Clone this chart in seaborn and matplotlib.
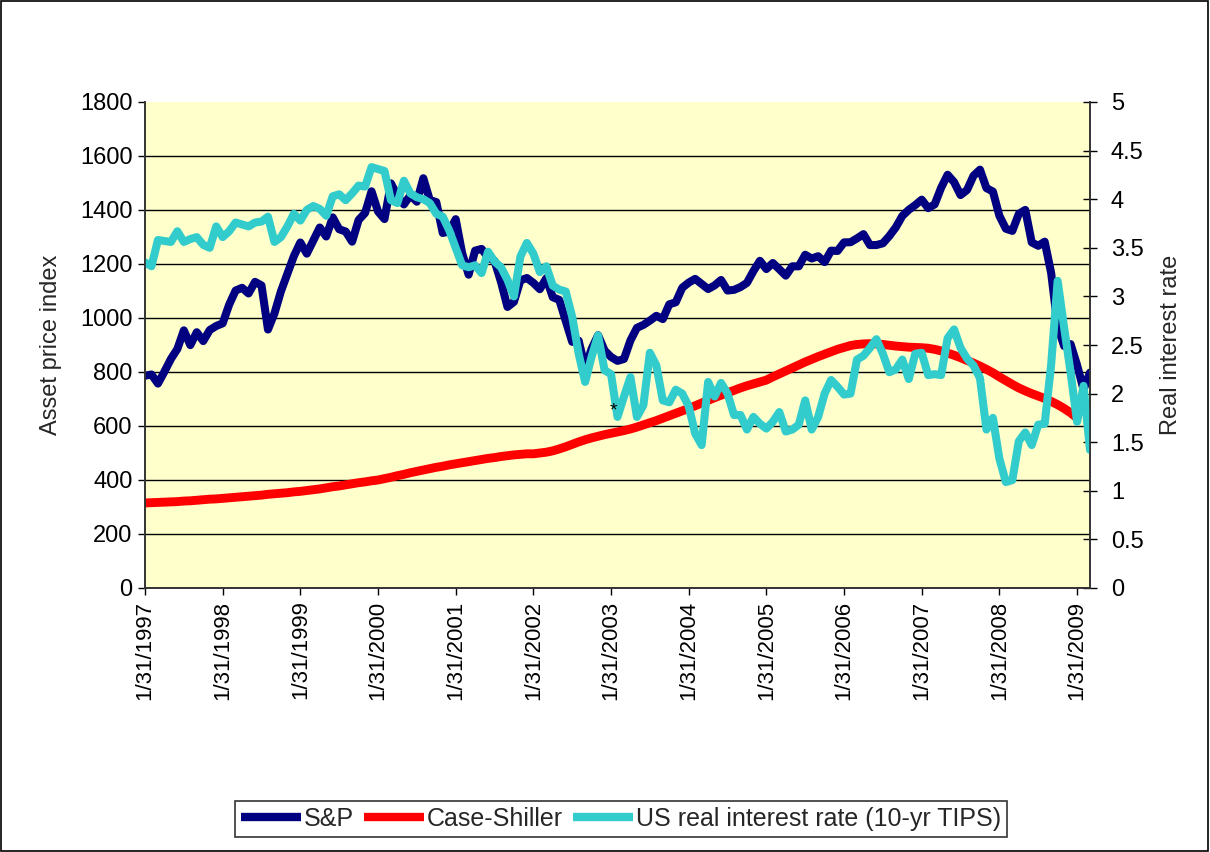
import numpy as np
import pandas as pd
import matplotlib
matplotlib.use("Agg")
import matplotlib.pyplot as plt
from matplotlib.patches import Rectangle
import seaborn as sns

# ---------------- data (monthly, Jan 1997 - Mar 2009) ----------------
sp500 = [
    786.16, 790.82, 757.12, 801.34, 848.28, 885.14, 954.29, 899.47, 947.28, 914.62, 955.40, 970.43,
    980.28, 1049.34, 1101.75, 1111.75, 1090.82, 1133.84, 1120.67, 957.28, 1017.01, 1098.67, 1163.63, 1229.23,
    1279.64, 1238.33, 1286.37, 1335.18, 1301.84, 1372.71, 1328.72, 1320.41, 1282.71, 1362.93, 1388.91, 1469.25,
    1394.46, 1366.42, 1498.58, 1452.43, 1420.60, 1454.60, 1430.83, 1517.68, 1436.51, 1429.40, 1314.95, 1320.28,
    1366.01, 1239.94, 1160.33, 1249.46, 1255.82, 1224.38, 1211.23, 1133.58, 1040.94, 1059.78, 1139.45, 1148.08,
    1130.20, 1106.73, 1147.39, 1076.92, 1067.14, 989.82, 911.62, 916.07, 815.28, 885.76, 936.31, 879.82,
    855.70, 841.15, 848.18, 916.92, 963.59, 974.50, 990.31, 1008.01, 995.97, 1050.71, 1058.20, 1111.92,
    1131.13, 1144.94, 1126.21, 1107.30, 1120.68, 1140.84, 1101.72, 1104.24, 1114.58, 1130.20, 1173.82, 1211.92,
    1181.27, 1203.60, 1180.59, 1156.85, 1191.50, 1191.33, 1234.18, 1220.33, 1228.81, 1207.01, 1249.48, 1248.29,
    1280.08, 1280.66, 1294.83, 1310.61, 1270.09, 1270.20, 1276.66, 1303.82, 1335.85, 1377.94, 1400.63, 1418.30,
    1438.24, 1406.82, 1420.86, 1482.37, 1530.62, 1503.35, 1455.27, 1473.99, 1526.75, 1549.38, 1481.14, 1468.36,
    1378.55, 1330.63, 1322.70, 1385.59, 1400.38, 1280.00, 1267.38, 1282.83, 1166.36, 968.75, 896.24, 903.25,
    825.88, 735.09, 797.87,
]

case_shiller = [
    315, 316, 317, 318, 319, 320, 322, 323, 325, 327, 329, 330,
    332, 334, 336, 338, 340, 342, 344, 347, 349, 351, 353, 356,
    358, 361, 364, 367, 371, 375, 378, 382, 386, 390, 393, 397,
    400, 405, 410, 416, 421, 427, 432, 437, 442, 447, 451, 456,
    460, 464, 468, 472, 476, 480, 483, 487, 490, 493, 495, 497,
    497, 500, 503, 508, 515, 523, 532, 541, 549, 556, 562, 568,
    573, 578, 583, 589, 596, 604, 612, 620, 629, 638, 647, 656,
    665, 675, 685, 695, 705, 714, 723, 732, 741, 749, 756, 763,
    770, 782, 793, 804, 815, 826, 837, 847, 857, 866, 875, 884,
    891, 898, 902, 904, 905, 904, 902, 899, 896, 894, 892, 891,
    890, 888, 884, 878, 870, 862, 853, 843, 833, 822, 810, 797,
    782, 768, 754, 741, 730, 720, 711, 702, 691, 679, 665, 649,
    630,
]

tips = [
    3.35, 3.31, 3.58, 3.57, 3.56, 3.67, 3.56, 3.59, 3.61, 3.53, 3.50, 3.72,
    3.61, 3.67, 3.76, 3.74, 3.72, 3.76, 3.77, 3.82, 3.56, 3.61, 3.72, 3.85,
    3.78, 3.89, 3.93, 3.90, 3.83, 4.03, 4.05, 3.99, 4.06, 4.14, 4.13, 4.33,
    4.31, 4.29, 3.99, 3.96, 4.19, 4.06, 4.02, 4.00, 3.96, 3.85, 3.82, 3.68,
    3.50, 3.32, 3.30, 3.32, 3.24, 3.46, 3.36, 3.30, 3.17, 3.00, 3.41, 3.55,
    3.44, 3.25, 3.31, 3.11, 3.07, 3.05, 2.79, 2.41, 2.12, 2.38, 2.60, 2.24,
    2.20, 1.76, 1.97, 2.17, 1.76, 1.88, 2.42, 2.29, 1.93, 1.91, 2.04, 2.00,
    1.87, 1.59, 1.47, 2.12, 1.97, 2.11, 2.00, 1.78, 1.78, 1.63, 1.76, 1.69,
    1.64, 1.71, 1.81, 1.61, 1.63, 1.68, 1.93, 1.63, 1.76, 2.00, 2.14, 2.07,
    1.99, 2.00, 2.35, 2.39, 2.47, 2.56, 2.41, 2.22, 2.25, 2.35, 2.15, 2.41,
    2.42, 2.19, 2.20, 2.19, 2.57, 2.66, 2.47, 2.36, 2.29, 2.16, 1.63, 1.75,
    1.33, 1.09, 1.11, 1.51, 1.60, 1.47, 1.68, 1.69, 2.30, 3.16, 2.68, 2.22,
    1.71, 2.08, 1.42,
]

tick_labels = ["1/31/1997", "1/31/1998", "1/31/1999", "1/31/2000", "1/31/2001",
               "1/31/2002", "1/31/2003", "1/31/2004", "1/31/2005", "1/31/2006",
               "1/31/2007", "1/31/2008", "1/31/2009"]

left_ticks = [0, 200, 400, 600, 800, 1000, 1200, 1400, 1600, 1800]
right_ticks = [0, 0.5, 1, 1.5, 2, 2.5, 3, 3.5, 4, 4.5, 5]
right_tick_labels = ["0", "0.5", "1", "1.5", "2", "2.5", "3", "3.5", "4", "4.5", "5"]

series_names = ["S&P", "Case-Shiller", "US real interest rate (10-yr TIPS)"]
colors = ["#000080", "#FF0000", "#33CCCC"]

# ---------------- frames ----------------
month = np.arange(len(sp500))
df_sp = pd.DataFrame({"month": month, "value": sp500})
df_cs = pd.DataFrame({"month": month[:len(case_shiller)], "value": case_shiller})
df_tp = pd.DataFrame({"month": month[:len(tips)], "value": tips})

sns.set_style("ticks")
plt.rcParams["font.family"] = ["Liberation Sans", "DejaVu Sans"]

FS = 17
FSX = 16
FSL = 18

fig = plt.figure(figsize=(12.1, 8.52), dpi=100)
ax = fig.add_axes([145 / 1210, 1 - 588 / 852, (1090 - 145) / 1210, (588 - 102) / 852])
ax.set_facecolor("#FFFFCC")

lw = 5.8
sns.lineplot(data=df_sp, x="month", y="value", ax=ax, color=colors[0], linewidth=lw,
             label=series_names[0], legend=False)
sns.lineplot(data=df_cs, x="month", y="value", ax=ax, color=colors[1], linewidth=lw + 0.6,
             label=series_names[1], legend=False)

ax2 = ax.twinx()
sns.lineplot(data=df_tp, x="month", y="value", ax=ax2, color=colors[2], linewidth=lw,
             label=series_names[2], legend=False)

# axes limits / ticks
ax.set_xlim(0, len(sp500) - 1)
ax.set_ylim(0, 1800)
ax2.set_ylim(0, 5)
ax.set_xticks(np.arange(0, len(sp500), 12))
ax.set_xticklabels(tick_labels, rotation=90, fontsize=FSX)
ax.set_yticks(left_ticks)
ax.set_yticklabels([str(v) for v in left_ticks], fontsize=FS)
ax2.set_yticks(right_ticks)
ax2.set_yticklabels(right_tick_labels, fontsize=FS)

ax.set_xlabel("")
ax.set_ylabel("Asset price index", fontsize=FS, labelpad=13)
ax2.set_ylabel("Real interest rate", fontsize=FS, labelpad=12)

ax.yaxis.grid(True, color="black", linewidth=1.0)
ax.set_axisbelow(True)
ax.get_ygridlines()[-1].set_visible(False)

for a in (ax, ax2):
    a.spines["top"].set_visible(False)
    for s in ("left", "right", "bottom"):
        a.spines[s].set_color("#333333")
        a.spines[s].set_linewidth(1.2)
ax.tick_params(axis="both", direction="out", length=5, width=1, colors="black", pad=4)
ax2.tick_params(axis="y", direction="inout", length=10, width=1, colors="black", pad=10)

# small asterisk annotation in the plot
ax2.text(0.496, 0.365, "*", transform=ax2.transAxes, fontsize=14, ha="center", va="center",
         color="black", zorder=10)

# legend
h1, l1 = ax.get_legend_handles_labels()
h2, l2 = ax2.get_legend_handles_labels()
leg = fig.legend(h1 + h2, l1 + l2, loc="center", bbox_to_anchor=(621 / 1210, 1 - 819 / 852),
                 ncol=3, fontsize=FSL, frameon=True, fancybox=False, edgecolor="black",
                 handlelength=2.4, handletextpad=0.12, columnspacing=0.4, borderpad=0.25,
                 borderaxespad=0.0)
leg.get_frame().set_linewidth(1.2)
for line in leg.get_lines():
    line.set_linewidth(6)
    line.set_solid_capstyle("butt")

# outer border around the whole figure
fig.patches.append(Rectangle((0.0008, 0.0012), 0.9975, 0.9975, transform=fig.transFigure,
                             fill=False, edgecolor="black", linewidth=1.2))

fig.savefig("out.png", dpi=100, facecolor="white")
